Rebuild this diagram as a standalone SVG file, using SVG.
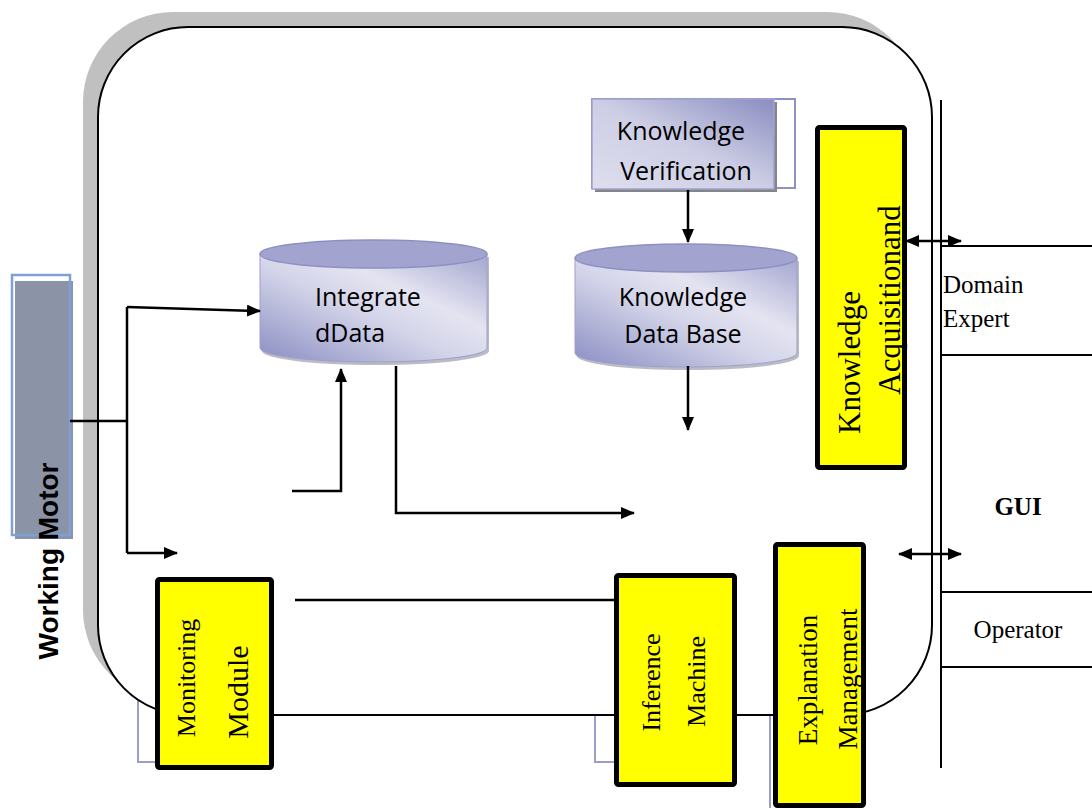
<svg xmlns="http://www.w3.org/2000/svg" width="1092" height="808" viewBox="0 0 1092 808">
<style>
.ln{fill:none;stroke:#000;stroke-width:2.5}
.pl{fill:none;stroke:#000;stroke-width:2}
.lav{fill:none;stroke:#9b9dcc;stroke-width:2}
.yb{fill:#ffff00;stroke:#000;stroke-width:5}
.tm{font-family:"Liberation Serif","Times New Roman",serif;fill:#000}
.cb{font-family:"Open Sans","Liberation Sans",sans-serif;font-size:25px;fill:#000}
.cylTop{fill:#a2a4cf;stroke:#8d90c2;stroke-width:1.5}
</style>
<defs>
<marker id="ah" markerUnits="userSpaceOnUse" markerWidth="14" markerHeight="12" refX="13" refY="6" orient="auto-start-reverse">
<path d="M0,0 L14,6 L0,12 z" fill="#000"/>
</marker>
<linearGradient id="gBox" x1="0" y1="1" x2="1" y2="0">
<stop offset="0" stop-color="#dedeee"/>
<stop offset="0.5" stop-color="#cdcee5"/>
<stop offset="1" stop-color="#8a8dc0"/>
</linearGradient>
<linearGradient id="gCyl" x1="0" y1="1" x2="1" y2="0">
<stop offset="0" stop-color="#8a8dc2"/>
<stop offset="0.45" stop-color="#d3d4e9"/>
<stop offset="0.65" stop-color="#e4e4f1"/>
<stop offset="1" stop-color="#a3a5cf"/>
</linearGradient>
</defs>

<!-- lavender outlines behind the frame -->
<g id="back-outlines">
<rect class="lav" x="138" y="600" width="120" height="162"/>
<rect class="lav" x="595" y="600" width="120" height="162"/>
<rect class="lav" x="770" y="600" width="88" height="230"/>
</g>

<!-- frame -->
<g id="frame">
<rect x="83" y="12" width="834" height="688" rx="90" ry="90" fill="#c0c0c0"/>
<rect x="98" y="27" width="834" height="688" rx="90" ry="90" fill="#fff" stroke="#000" stroke-width="2"/>
</g>

<!-- GUI panel -->
<g id="gui-panel">
<line class="pl" x1="941" y1="100" x2="941" y2="768"/>
<line class="pl" x1="941" y1="246" x2="1092" y2="246"/>
<line class="pl" x1="941" y1="355" x2="1092" y2="355"/>
<line class="pl" x1="941" y1="592" x2="1092" y2="592"/>
<line class="pl" x1="941" y1="667" x2="1092" y2="667"/>
<text class="tm" x="943" y="293" font-size="25">Domain</text>
<text class="tm" x="943" y="327" font-size="25">Expert</text>
<text class="tm" x="1018" y="515" font-size="25" font-weight="bold" text-anchor="middle">GUI</text>
<text class="tm" x="1018" y="638" font-size="25" text-anchor="middle">Operator</text>
</g>

<!-- Working Motor -->
<g id="working-motor">
<rect x="15" y="281" width="58" height="258" fill="#8a94a6"/>
<rect x="12" y="275" width="58" height="260" fill="none" stroke="#7fa0d6" stroke-width="2.5"/>
<text transform="translate(58,561) rotate(-90)" text-anchor="middle" font-family="'Liberation Sans',Arial,sans-serif" font-size="28" font-weight="bold" fill="#000">Working Motor</text>
</g>

<!-- Knowledge Verification -->
<g id="knowledge-verification">
<rect x="592" y="99" width="203" height="89" fill="#fff" stroke="#8f91c5" stroke-width="2"/>
<rect x="595" y="102" width="182" height="90" fill="#858585"/>
<rect x="592" y="99" width="182" height="90" fill="url(#gBox)" stroke="#a0a2cf" stroke-width="1.5"/>
<text class="cb" x="681" y="140" text-anchor="middle">Knowledge</text>
<text class="cb" x="686" y="180" text-anchor="middle">Verification</text>
</g>

<!-- Integrated Data cylinder -->
<g id="integrated-data">
<path d="M262,257 L262,351 A113.5,14 0 0 0 489,351 L489,257 Z" fill="#8e8ea0" opacity="0.6"/>
<path d="M260,254 L260,348 A113.5,14 0 0 0 487,348 L487,254 Z" fill="url(#gCyl)" stroke="#9ea0cc" stroke-width="1"/>
<ellipse class="cylTop" cx="373.5" cy="254" rx="113.5" ry="14"/>
<text class="cb" x="315" y="306">Integrate</text>
<text class="cb" x="315" y="342">dData</text>
</g>

<!-- Knowledge Data Base cylinder -->
<g id="knowledge-data-base">
<path d="M577,261 L577,356 A111,14 0 0 0 799,356 L799,261 Z" fill="#8e8ea0" opacity="0.6"/>
<path d="M575,258 L575,353 A111,14 0 0 0 797,353 L797,258 Z" fill="url(#gCyl)" stroke="#9ea0cc" stroke-width="1"/>
<ellipse class="cylTop" cx="686" cy="258" rx="111" ry="14"/>
<text class="cb" x="683" y="306" text-anchor="middle">Knowledge</text>
<text class="cb" x="683" y="343" text-anchor="middle">Data Base</text>
</g>

<!-- Knowledge Acquisition -->
<g id="knowledge-acquisition">
<rect class="yb" x="817.5" y="127.5" width="87" height="340" rx="2"/>
<text class="tm" transform="translate(860,362.5) rotate(-90)" text-anchor="middle" font-size="31">Knowledge</text>
<text class="tm" transform="translate(900,300) rotate(-90)" text-anchor="middle" font-size="31">Acquisitionand</text>
</g>

<!-- Monitoring Module -->
<g id="monitoring-module">
<rect class="yb" x="157.5" y="579.5" width="114" height="188" rx="2"/>
<text class="tm" transform="translate(195,678) rotate(-90)" text-anchor="middle" font-size="26">Monitoring</text>
<text class="tm" transform="translate(248,692) rotate(-90)" text-anchor="middle" font-size="30">Module</text>
</g>

<!-- Inference Machine -->
<g id="inference-machine">
<rect class="yb" x="616.5" y="575.5" width="118" height="209" rx="2"/>
<text class="tm" transform="translate(660,682.5) rotate(-90)" text-anchor="middle" font-size="26">Inference</text>
<text class="tm" transform="translate(705,681.5) rotate(-90)" text-anchor="middle" font-size="26">Machine</text>
</g>

<!-- Explanation Management -->
<g id="explanation-management">
<rect class="yb" x="775.5" y="544.5" width="88" height="261" rx="2"/>
<text class="tm" transform="translate(817,680) rotate(-90)" text-anchor="middle" font-size="27">Explanation</text>
<text class="tm" transform="translate(857,679) rotate(-90)" text-anchor="middle" font-size="27">Management</text>
</g>

<!-- connectors -->
<g id="connectors">
<path class="ln" d="M70,421 H127"/>
<path class="ln" d="M127,307 V553"/>
<path class="ln" d="M127,307 L260,311" marker-end="url(#ah)"/>
<path class="ln" d="M127,553 H177" marker-end="url(#ah)"/>
<path class="ln" d="M292,491 H341 V369" marker-end="url(#ah)"/>
<path class="ln" d="M396,366 V513 H634" marker-end="url(#ah)"/>
<path class="ln" d="M688,190 V242" marker-end="url(#ah)"/>
<path class="ln" d="M688,366 V430" marker-end="url(#ah)"/>
<path class="ln" d="M295,600 H614"/>
<path class="ln" d="M906,241 H961" marker-start="url(#ah)" marker-end="url(#ah)"/>
<path class="ln" d="M899,554 H961" marker-start="url(#ah)" marker-end="url(#ah)"/>
</g>
</svg>
